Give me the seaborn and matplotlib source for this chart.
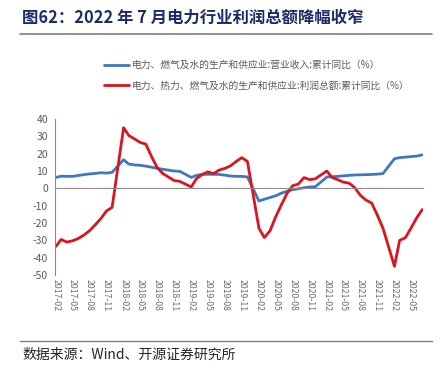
import matplotlib
matplotlib.use("Agg")
import matplotlib.pyplot as plt
import matplotlib.dates as mdates
from matplotlib.lines import Line2D
import seaborn as sns
import pandas as pd

# ---- data (monthly cumulative YoY, January not published) ----
months = [f"{y}-{m:02d}" for y in range(2017, 2023) for m in range(2, 13)
          if not (y == 2022 and m > 7)]

revenue_2017 = [6.3, 7.0, 6.9, 6.9, 7.4, 7.9, 8.3, 8.6, 9.0, 8.8, 9.2]
revenue_2018 = [16.5, 14.0, 13.5, 13.3, 12.8, 12.2, 11.5, 11.0, 10.5, 10.0, 9.8]
revenue_2019 = [6.3, 7.5, 8.0, 8.1, 8.1, 8.0, 7.6, 7.1, 6.9, 6.9, 6.6]
revenue_2020 = [-7.3, -6.3, -5.3, -4.3, -2.8, -1.7, -0.8, -0.2, 0.3, 0.8, 0.9]
revenue_2021 = [6.5, 6.7, 6.9, 7.2, 7.5, 7.7, 7.8, 7.9, 8.0, 8.2, 8.5]
revenue_2022 = [17.1, 17.7, 18.0, 18.3, 18.6, 19.3]

profit_2017 = [-33.5, -29.5, -31.0, -30.3, -29.0, -27.0, -24.5, -21.0, -17.5, -13.0, -11.0]
profit_2018 = [35.0, 30.5, 28.5, 26.5, 25.5, 18.5, 12.0, 8.5, 6.5, 4.5, 4.0]
profit_2019 = [0.8, 5.6, 8.0, 9.5, 8.5, 10.5, 11.5, 13.0, 15.5, 17.7, 15.5]
profit_2020 = [-23.0, -28.4, -24.5, -16.5, -9.5, -3.0, 1.5, 2.5, 6.2, 5.0, 5.5]
profit_2021 = [10.0, 6.3, 5.0, 3.6, 3.0, 0.5, -4.0, -6.8, -8.5, -15.5, -23.0]
profit_2022 = [-45.0, -30.0, -28.5, -23.0, -17.0, -12.3]

revenue = revenue_2017 + revenue_2018 + revenue_2019 + revenue_2020 + revenue_2021 + revenue_2022
profit = profit_2017 + profit_2018 + profit_2019 + profit_2020 + profit_2021 + profit_2022

label_rev = "电力、燃气及水的生产和供应业:营业收入:累计同比（%）"
label_pro = "电力、热力、燃气及水的生产和供应业:利润总额:累计同比（%）"
series_names = [label_rev, label_pro]
series_colors = ["#3f78c0", "#dc141e"]

tick_labels = [f"{y}-{m:02d}" for y in range(2017, 2023) for m in (2, 5, 8, 11)
               if not (y == 2022 and m > 5)]

title = "图62：2022 年 7 月电力行业利润总额降幅收窄"
source = "数据来源：Wind、开源证券研究所"

# ---- build table ----
dates = pd.to_datetime(months, format="%Y-%m")
df = pd.concat([
    pd.DataFrame({"date": dates, "value": revenue, "series": label_rev}),
    pd.DataFrame({"date": dates, "value": profit, "series": label_pro}),
])

sns.set_style("white")
plt.rcParams["font.family"] = ["Noto Sans CJK SC", "DejaVu Sans"]
plt.rcParams["axes.unicode_minus"] = False

W, H = 445, 379
fig = plt.figure(figsize=(W / 100, H / 100), dpi=100)
ax = fig.add_axes([55 / W, 1 - 275 / H, (423 - 55) / W, (275 - 119) / H])

palette = dict(zip(series_names, series_colors))
sns.lineplot(data=df, x="date", y="value", hue="series", hue_order=series_names,
             palette=palette, linewidth=2.0, ax=ax, legend=False)

ax.set_xlim(pd.Timestamp("2017-01-27"), pd.Timestamp("2022-07-05"))
ax.set_ylim(-50, 40)
ax.set_yticks(range(-50, 41, 10))
ax.set_xticks(pd.to_datetime(tick_labels, format="%Y-%m"))
ax.xaxis.set_major_formatter(mdates.DateFormatter("%Y-%m"))
ax.set_xlabel("")
ax.set_ylabel("")

grey = "#8c8c8c"
for s in ("top", "right"):
    ax.spines[s].set_visible(False)
ax.spines["left"].set_color(grey)
ax.spines["left"].set_linewidth(0.8)
ax.spines["bottom"].set_position(("data", 0))
ax.spines["bottom"].set_color(grey)
ax.spines["bottom"].set_linewidth(0.8)

ax.tick_params(axis="y", direction="out", length=3, width=0.8, color=grey,
               labelsize=7.5, labelcolor="#595959", pad=2)
ax.tick_params(axis="x", direction="out", length=3, width=0.8, color=grey,
               labelsize=6.3, labelcolor="#6b6b6b", pad=62, labelrotation=-90)
ax.grid(False)
ax.set_facecolor("white")

handles = [Line2D([], [], color=c, linewidth=2.0) for c in series_colors]
leg = fig.legend(handles, series_names, loc="upper left",
                 bbox_to_anchor=(104 / W, 1 - 60 / H), frameon=False,
                 fontsize=7, handlelength=2.6, handletextpad=0.3,
                 labelspacing=1.1, borderpad=0, borderaxespad=0)
for t in leg.get_texts():
    t.set_color("#5a5a5a")

fig.text(22 / W, 1 - 18 / H, title, ha="left", va="center", fontsize=11.8,
         fontweight="bold", color="#1c2a6b")
fig.add_artist(Line2D([20 / W, 432 / W], [1 - 34 / H] * 2, color="#7f7f7f", lw=1.2))
fig.add_artist(Line2D([20 / W, 432 / W], [1 - 341 / H] * 2, color="#7f7f7f", lw=1.0))
fig.text(22 / W, 1 - 355 / H, source, ha="left", va="center", fontsize=10,
         color="#262626")

fig.savefig("out.png", dpi=100)
